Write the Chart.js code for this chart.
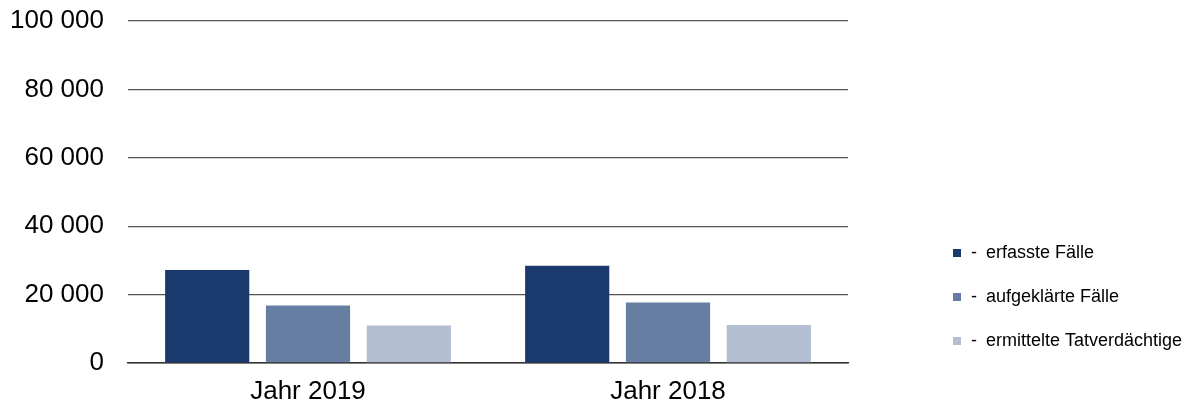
<!DOCTYPE html>
<html>
<head>
<meta charset="utf-8">
<script src="https://cdn.jsdelivr.net/npm/chart.js@4"></script>
<style>
html,body{margin:0;padding:0;background:#fff;}
#wrap{width:1189px;height:405px;position:relative;}
</style>
</head>
<body>
<div id="wrap"><canvas id="c" width="1189" height="405"></canvas></div>
<script>
const categories = ["Jahr 2019", "Jahr 2018"];
const seriesNames = ["erfasste Fälle", "aufgeklärte Fälle", "ermittelte Tatverdächtige"];
const erfassteFaelle = [27200, 28400];
const aufgeklaerteFaelle = [16800, 17700];
const ermittelteTatverdaechtige = [11000, 11100];
const yTicks = [0, 20000, 40000, 60000, 80000, 100000];
const colors = ["#1a3a6e", "#657ea2", "#b3bed2"];

const seriesValues = [erfassteFaelle, aufgeklaerteFaelle, ermittelteTatverdaechtige];

const fmt = v => String(v).replace(/\B(?=(\d{3})+(?!\d))/g, " ");

const legendPlugin = {
  id: 'sideLegend',
  afterDraw(chart) {
    const ctx = chart.ctx;
    ctx.save();
    ctx.font = '18px "Liberation Sans", Arial, sans-serif';
    ctx.textBaseline = 'middle';
    const ys = [253, 297, 341];
    chart.data.datasets.forEach((ds, i) => {
      const y = ys[i];
      ctx.fillStyle = ds.backgroundColor;
      ctx.fillRect(953, y - 4, 8, 8);
      ctx.fillStyle = '#000';
      ctx.textAlign = 'left';
      ctx.fillText('-', 971, y);
      ctx.fillText(ds.label, 986, y);
    });
    ctx.restore();
  }
};

new Chart(document.getElementById('c'), {
  type: 'bar',
  data: {
    labels: categories,
    datasets: seriesNames.map((n, i) => ({
      label: n,
      data: seriesValues[i],
      backgroundColor: colors[i],
      borderWidth: 0,
      categoryPercentage: 0.84,
      barPercentage: 0.835
    }))
  },
  options: {
    responsive: false,
    animation: false,
    devicePixelRatio: 1,
    layout: { padding: { left: 10, right: 341, top: 21, bottom: 0 } },
    plugins: { legend: { display: false }, tooltip: { enabled: false } },
    scales: {
      x: {
        grid: { display: false, drawTicks: false },
        border: { display: true, color: '#333333', width: 1.5 },
        afterFit: s => { s.height = 42; s.paddingLeft = 0; s.paddingRight = 0; },
        ticks: {
          color: '#000',
          padding: 16,
          font: { family: '"Liberation Sans", Arial, sans-serif', size: 26, lineHeight: 1.0 }
        }
      },
      y: {
        min: 0, max: 100000,
        afterBuildTicks: s => { s.ticks = yTicks.map(v => ({ value: v })); },
        afterFit: s => { s.width = 118; s.paddingTop = 0; s.paddingBottom = 0; },
        grid: { color: '#555555', lineWidth: 1.3, drawTicks: false },
        border: { display: false },
        ticks: {
          color: '#000',
          padding: 24,
          callback: v => fmt(v),
          font: { family: '"Liberation Sans", Arial, sans-serif', size: 26 }
        }
      }
    }
  },
  plugins: [legendPlugin]
});
</script>
</body>
</html>
